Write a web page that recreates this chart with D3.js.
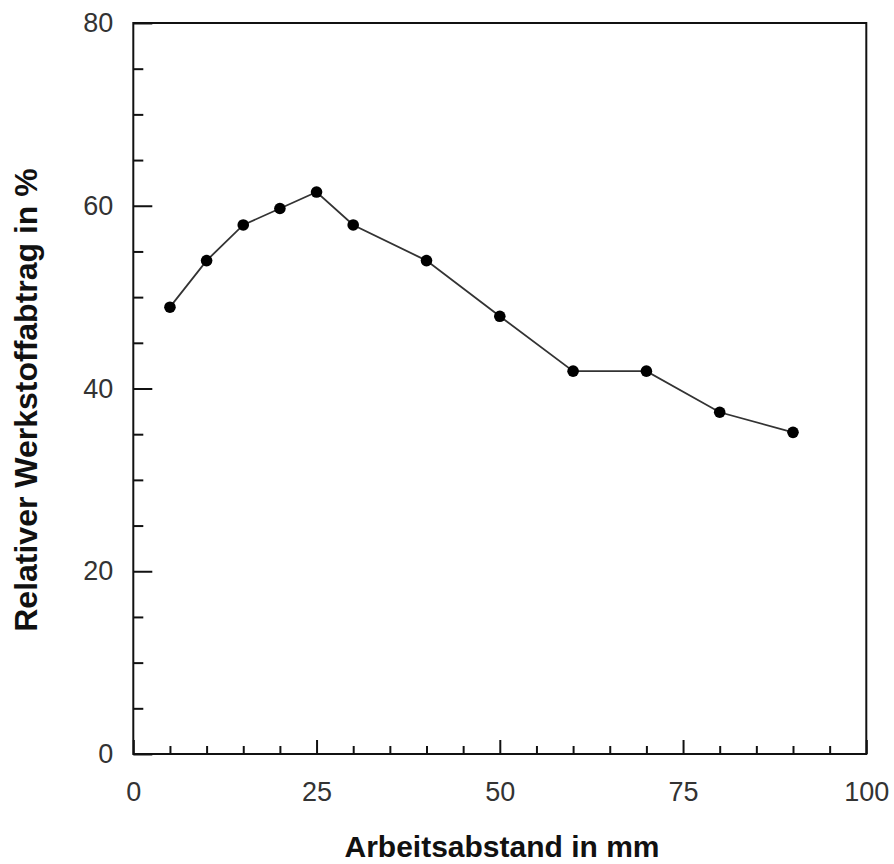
<!DOCTYPE html>
<html><head><meta charset="utf-8">
<script src="https://cdn.jsdelivr.net/npm/d3@7"></script>
<style>body{margin:0;background:#fff}svg{display:block}</style>
</head><body>
<script>
const xValues = [5,10,15,20,25,30,40,50,60,70,80,90];
const yValues = [48.9,54.0,57.9,59.7,61.5,57.9,54.0,47.9,41.9,41.9,37.4,35.2];
const xTicks = [0,25,50,75,100];
const yTicks = [0,20,40,60,80];
const xLabel = "Arbeitsabstand in mm";
const yLabel = "Relativer Werkstoffabtrag in %";

const W=894,H=864;
const L=133.3,R=866.3,T=23,B=754;
const svg=d3.select("body").append("svg").attr("width",W).attr("height",H);
const x=d3.scaleLinear().domain([0,100]).range([L,R]);
const y=d3.scaleLinear().domain([0,80]).range([B,T]);
const font="Liberation Sans, Arial, sans-serif";

svg.append("rect").attr("x",L).attr("y",T).attr("width",R-L).attr("height",B-T)
  .attr("fill","none").attr("stroke","#111").attr("stroke-width",2);

const xMinor=d3.range(5,100,5).filter(v=>v%25!==0);
const gx=svg.append("g").attr("transform",`translate(0,${B})`);
gx.call(d3.axisBottom(x).tickValues(xTicks).tickSize(-14).tickPadding(28).tickFormat(d3.format("d")));
gx.append("g").call(d3.axisBottom(x).tickValues(xMinor).tickSize(-8).tickFormat(""));
gx.selectAll(".domain").remove();
gx.selectAll("line").attr("stroke","#111").attr("stroke-width",2);
gx.selectAll("text").attr("font-family",font).attr("font-size",27).attr("fill","#333");

const yMinor=d3.range(5,80,5).filter(v=>v%20!==0);
const gy=svg.append("g").attr("transform",`translate(${L},0)`);
gy.call(d3.axisLeft(y).tickValues(yTicks).tickSize(-19).tickPadding(20).tickFormat(d3.format("d")));
gy.append("g").call(d3.axisLeft(y).tickValues(yMinor).tickSize(-10).tickFormat(""));
gy.selectAll(".domain").remove();
gy.selectAll("line").attr("stroke","#111").attr("stroke-width",2);
gy.selectAll("text").attr("font-family",font).attr("font-size",27).attr("fill","#333");

const data=xValues.map((v,i)=>({x:v,y:yValues[i]}));
svg.append("path").datum(data)
  .attr("d",d3.line().x(d=>x(d.x)).y(d=>y(d.y)))
  .attr("fill","none").attr("stroke","#333").attr("stroke-width",1.8);
svg.selectAll("circle.pt").data(data).enter().append("circle").attr("class","pt")
  .attr("cx",d=>x(d.x)).attr("cy",d=>y(d.y)).attr("r",5.8).attr("fill","#000");

svg.append("text").attr("x",502).attr("y",857).attr("text-anchor","middle")
  .attr("font-family",font).attr("font-weight","bold").attr("font-size",30).attr("fill","#111").text(xLabel);
svg.append("text").attr("transform",`translate(37,400) rotate(-90)`).attr("text-anchor","middle")
  .attr("font-family",font).attr("font-weight","bold").attr("font-size",32).attr("fill","#111").text(yLabel);
</script>
</body></html>
